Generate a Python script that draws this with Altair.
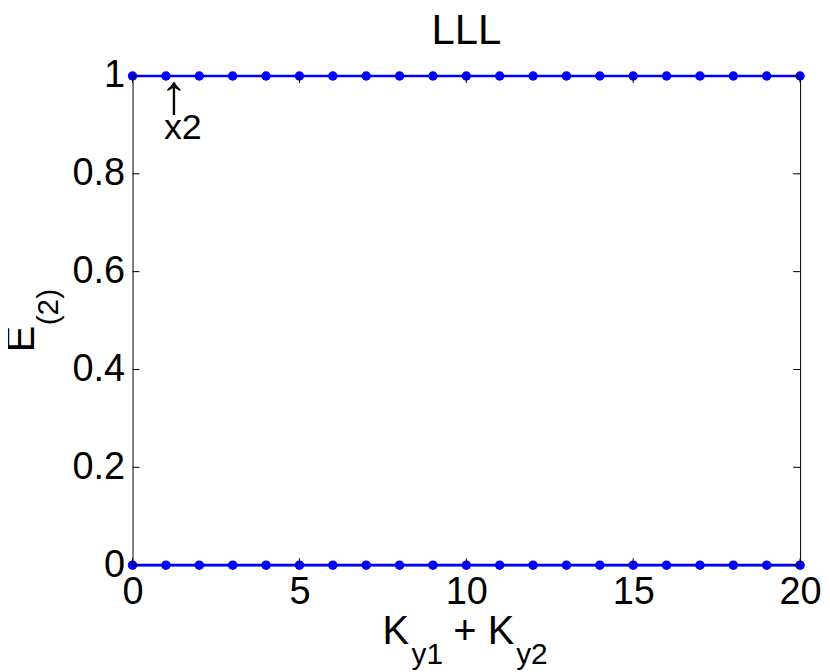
import altair as alt
import pandas as pd

# Data
x_vals = [0, 1, 2, 3, 4, 5, 6, 7, 8, 9, 10, 11, 12, 13, 14, 15, 16, 17, 18, 19, 20]
series_top = [1, 1, 1, 1, 1, 1, 1, 1, 1, 1, 1, 1, 1, 1, 1, 1, 1, 1, 1, 1, 1]
series_bottom = [0, 0, 0, 0, 0, 0, 0, 0, 0, 0, 0, 0, 0, 0, 0, 0, 0, 0, 0, 0, 0]
x_ticks = [0, 5, 10, 15, 20]
y_ticks = [0, 0.2, 0.4, 0.6, 0.8, 1]
title_text = "LLL"
annot_x = [1]

W, H = 670, 491
FONT = "Liberation Sans"
BLUE = "#0000ff"

df = pd.DataFrame({
    "x": x_vals * 2,
    "y": series_top + series_bottom,
    "s": ["top"] * len(x_vals) + ["bottom"] * len(x_vals),
})

xs = alt.Scale(domain=[0, 20], nice=False, zero=False)
ys = alt.Scale(domain=[0, 1], nice=False, zero=False)

xaxis = alt.Axis(values=x_ticks, ticks=False, domain=False, grid=False, title=None,
                 labelFont=FONT, labelFontSize=38, labelColor="black", labelPadding=8,
                 labelFlush=False, labelOverlap=False, format="d")
yaxis = alt.Axis(values=y_ticks, ticks=False, domain=False, grid=False, title=None,
                 labelFont=FONT, labelFontSize=38, labelColor="black", labelPadding=8,
                 labelFlush=False, labelOverlap=False,
                 labelExpr="datum.value == 0 ? '0' : datum.value == 1 ? '1' : format(datum.value, '.1f')")

base = alt.Chart(df)

lines = base.mark_line(color=BLUE, strokeWidth=2.7).encode(
    x=alt.X("x:Q", scale=xs, axis=xaxis),
    y=alt.Y("y:Q", scale=ys, axis=yaxis),
    detail="s:N",
)
points = base.mark_point(filled=True, color=BLUE, size=90, opacity=1).encode(
    x=alt.X("x:Q", scale=xs),
    y=alt.Y("y:Q", scale=ys),
)

xt = pd.DataFrame({"v": x_ticks})
yt = pd.DataFrame({"v": y_ticks})
tick_b = alt.Chart(xt).mark_rule(color="black", strokeWidth=1).encode(
    x=alt.X("v:Q", scale=xs), y=alt.value(H), y2=alt.value(H - 7))
tick_t = alt.Chart(xt).mark_rule(color="black", strokeWidth=1).encode(
    x=alt.X("v:Q", scale=xs), y=alt.value(0), y2=alt.value(7))
tick_l = alt.Chart(yt).mark_rule(color="black", strokeWidth=1).encode(
    y=alt.Y("v:Q", scale=ys), x=alt.value(0), x2=alt.value(7))
tick_r = alt.Chart(yt).mark_rule(color="black", strokeWidth=1).encode(
    y=alt.Y("v:Q", scale=ys), x=alt.value(W), x2=alt.value(W - 7))


def txt(s, x, y, size, align="left", angle=0, baseline="alphabetic", font=FONT):
    return alt.Chart(pd.DataFrame({"t": [s]})).mark_text(
        font=font, fontSize=size, color="black", align=align, baseline=baseline, angle=angle
    ).encode(text="t:N", x=alt.value(x), y=alt.value(y))


title = txt(title_text, W / 2, -32, 42, align="center")

xl1 = txt("K", 251, 570, 40)
xl2 = txt("y1", 280, 590, 30)
xl3 = txt("+ K", 322, 570, 40)
xl4 = txt("y2", 385, 590, 30)

yl1 = txt("E", -111, 264, 40, align="center", angle=270, baseline="middle")
yl2 = txt("(2)", -84, 232, 30, align="center", angle=270, baseline="middle")

annot = pd.DataFrame({"x": annot_x, "a": ["\u2191"], "b": ["x2"]})
arrow = alt.Chart(annot).mark_text(
    font=FONT, fontSize=56, color="black", align="center", baseline="alphabetic", dx=8
).encode(text="a:N", x=alt.X("x:Q", scale=xs), y=alt.value(37))
x2 = alt.Chart(annot).mark_text(
    font=FONT, fontSize=36, color="black", align="left", baseline="alphabetic", dx=-2
).encode(text="b:N", x=alt.X("x:Q", scale=xs), y=alt.value(63))

chart = alt.layer(
    lines, points, tick_b, tick_t, tick_l, tick_r, title, xl1, xl2, xl3, xl4, yl1, yl2, arrow, x2
).properties(
    width=W, height=H,
    autosize=alt.AutoSizeParams(type="none"),
    padding={"left": 125, "top": 67, "right": 22, "bottom": 106},
).configure(background="white").configure_view(stroke="black", strokeWidth=1)

chart.save("out.html", embed_options={"renderer": "svg", "actions": False})
